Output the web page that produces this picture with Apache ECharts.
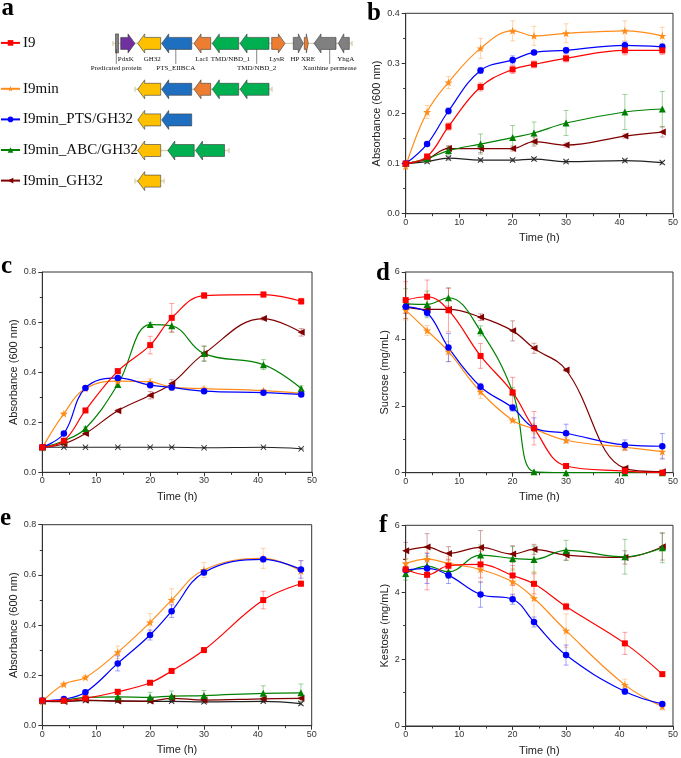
<!DOCTYPE html>
<html>
<head>
<meta charset="utf-8">
<script src="https://cdn.jsdelivr.net/npm/echarts@6.0.0/dist/echarts.min.js"></script>
<style>
html, body { margin: 0; padding: 0; background: #fff; }
#main { width: 681px; height: 758px; }
</style>
</head>
<body>
<div id="main"></div>
<script>
// sampling times (h)
var hours = [0, 4, 8, 14, 20, 24, 30, 41, 48];

// b - growth on sucrose + kestose mix (A600)
var bI9 = [0.100, 0.114, 0.174, 0.253, 0.288, 0.298, 0.310, 0.326, 0.326];
var bI9Err = [0.004, 0.005, 0.007, 0.008, 0.008, 0.007, 0.007, 0.009, 0.008];
var bMin = [0.095, 0.203, 0.262, 0.330, 0.365, 0.355, 0.360, 0.365, 0.355];
var bMinErr = [0.006, 0.013, 0.012, 0.020, 0.020, 0.019, 0.019, 0.020, 0.017];
var bPts = [0.100, 0.139, 0.205, 0.286, 0.307, 0.322, 0.326, 0.336, 0.333];
var bPtsErr = [0.003, 0.004, 0.006, 0.006, 0.008, 0.004, 0.006, 0.007, 0.006];
var bAbc = [0.100, 0.110, 0.126, 0.139, 0.152, 0.161, 0.181, 0.203, 0.209];
var bAbcErr = [0.003, 0.005, 0.008, 0.020, 0.024, 0.022, 0.025, 0.035, 0.035];
var bGh = [0.100, 0.109, 0.130, 0.130, 0.130, 0.144, 0.137, 0.155, 0.163];
var bGhErr = [0.003, 0.004, 0.006, 0.008, 0.005, 0.009, 0.004, 0.004, 0.010];
var bCtl = [0.100, 0.104, 0.111, 0.107, 0.107, 0.109, 0.104, 0.106, 0.102];
var bCtlErr = [0.002, 0.003, 0.004, 0.003, 0.003, 0.003, 0.003, 0.003, 0.003];

// c - growth on sucrose
var cI9 = [0.100, 0.126, 0.247, 0.404, 0.508, 0.617, 0.706, 0.710, 0.683];
var cI9Err = [0.004, 0.005, 0.008, 0.010, 0.035, 0.057, 0.012, 0.010, 0.012];
var cMin = [0.098, 0.234, 0.335, 0.364, 0.361, 0.340, 0.334, 0.326, 0.315];
var cMinErr = [0.004, 0.005, 0.008, 0.006, 0.012, 0.010, 0.006, 0.006, 0.005];
var cPts = [0.100, 0.155, 0.337, 0.377, 0.348, 0.339, 0.324, 0.318, 0.311];
var cPtsErr = [0.003, 0.005, 0.006, 0.006, 0.006, 0.005, 0.005, 0.005, 0.005];
var cAbc = [0.100, 0.126, 0.175, 0.351, 0.590, 0.585, 0.474, 0.430, 0.335];
var cAbcErr = [0.003, 0.005, 0.006, 0.008, 0.008, 0.025, 0.030, 0.020, 0.010];
var cGh = [0.100, 0.114, 0.155, 0.246, 0.308, 0.355, 0.474, 0.614, 0.559];
var cGhErr = [0.003, 0.004, 0.005, 0.006, 0.015, 0.015, 0.030, 0.006, 0.015];
var cCtl = [0.100, 0.100, 0.100, 0.100, 0.100, 0.100, 0.098, 0.100, 0.094];
var cCtlErr = [0.002, 0.002, 0.002, 0.002, 0.002, 0.002, 0.002, 0.002, 0.002];

// d - residual sucrose (mg/mL)
var dI9 = [5.16, 5.26, 4.86, 3.49, 2.40, 1.33, 0.20, 0.05, 0.00];
var dI9Err = [0.55, 0.50, 0.65, 0.37, 0.45, 0.50, 0.05, 0.05, 0.00];
var dMin = [4.86, 4.25, 3.62, 2.42, 1.57, 1.31, 0.97, 0.76, 0.63];
var dMinErr = [0.30, 0.15, 0.30, 0.20, 0.05, 0.15, 0.08, 0.10, 0.20];
var dPts = [4.96, 4.78, 3.74, 2.57, 1.94, 1.34, 1.18, 0.83, 0.79];
var dPtsErr = [0.20, 0.10, 0.42, 0.10, 0.10, 0.30, 0.27, 0.15, 0.38];
var dAbc = [5.05, 5.03, 5.23, 4.24, 2.42, 0.03, 0.00, 0.00, 0.00];
var dAbcErr = [0.45, 0.40, 0.30, 0.15, 0.12, 0.00, 0.00, 0.00, 0.00];
var dGh = [4.96, 4.88, 4.88, 4.65, 4.24, 3.72, 3.07, 0.13, 0.03];
var dGhErr = [0.10, 0.10, 0.10, 0.10, 0.30, 0.15, 0.05, 0.05, 0.00];

// e - growth on kestose
var eI9 = [0.100, 0.100, 0.109, 0.135, 0.171, 0.218, 0.301, 0.500, 0.565];
var eI9Err = [0.004, 0.004, 0.005, 0.006, 0.006, 0.008, 0.006, 0.035, 0.008];
var eMin = [0.096, 0.165, 0.192, 0.292, 0.411, 0.500, 0.620, 0.666, 0.616];
var eMinErr = [0.004, 0.006, 0.008, 0.025, 0.035, 0.045, 0.030, 0.040, 0.040];
var ePts = [0.100, 0.106, 0.133, 0.248, 0.361, 0.456, 0.610, 0.662, 0.622];
var ePtsErr = [0.004, 0.005, 0.006, 0.030, 0.020, 0.025, 0.010, 0.010, 0.035];
var eAbc = [0.100, 0.102, 0.113, 0.115, 0.113, 0.118, 0.120, 0.129, 0.131];
var eAbcErr = [0.004, 0.005, 0.010, 0.010, 0.020, 0.020, 0.020, 0.030, 0.035];
var eGh = [0.097, 0.096, 0.102, 0.098, 0.098, 0.109, 0.102, 0.107, 0.109];
var eGhErr = [0.003, 0.003, 0.004, 0.004, 0.004, 0.006, 0.004, 0.004, 0.004];
var eCtl = [0.097, 0.097, 0.100, 0.099, 0.097, 0.097, 0.095, 0.097, 0.088];
var eCtlErr = [0.003, 0.003, 0.006, 0.006, 0.005, 0.005, 0.005, 0.005, 0.006];

// f - residual kestose (mg/mL)
var fI9 = [4.68, 4.52, 4.79, 4.83, 4.50, 4.25, 3.57, 2.47, 1.55];
var fI9Err = [0.20, 0.45, 0.20, 0.40, 0.30, 0.30, 0.10, 0.33, 0.05];
var fMin = [4.86, 4.99, 4.86, 4.68, 4.31, 3.82, 2.85, 1.23, 0.58];
var fMinErr = [0.15, 0.20, 0.20, 0.40, 0.40, 0.80, 0.50, 0.17, 0.10];
var fPts = [4.66, 4.71, 4.51, 3.93, 3.79, 3.11, 2.12, 1.03, 0.66];
var fPtsErr = [0.20, 0.45, 0.25, 0.38, 0.15, 0.15, 0.30, 0.08, 0.05];
var fAbc = [4.56, 4.78, 4.61, 5.11, 5.01, 4.98, 5.25, 5.06, 5.33];
var fAbcErr = [0.20, 0.30, 0.20, 0.30, 0.35, 0.40, 0.30, 0.52, 0.45];
var fGh = [5.24, 5.35, 5.16, 5.34, 5.14, 5.28, 5.11, 5.04, 5.36];
var fGhErr = [0.25, 0.40, 0.20, 0.50, 0.25, 0.15, 0.15, 0.20, 0.40];

// strains
var strainNames = ['I9', 'I9min', 'I9min_PTS/GH32', 'I9min_ABC/GH32', 'I9min_GH32', 'Control'];
var strainColors = ['#ff0000', '#ff8c1a', '#0000ff', '#008000', '#800000', '#222222'];
var starPath = 'path://M5,0L6.2,3.6L10,3.6L7,5.9L8.1,9.5L5,7.3L1.9,9.5L3,5.9L0,3.6L3.8,3.6Z';
var crossPath = 'path://M0,1L1,0L5,4L9,0L10,1L6,5L10,9L9,10L5,6L1,10L0,9L4,5Z';
var strainSymbols = ['rect', starPath, 'circle', 'triangle', 'triangle', crossPath];
var strainSymbolRotate = [0, 0, 0, 0, 90, 0];
var strainSymbolSize = [6, 8, 6.5, 7, 7, 6];

// panel a - gene cluster of I9 (positions along the map)
var geneNames = ['Predicated protein', 'PdxK', 'GH32', 'PTS_EIIBCA', 'LacI', 'TMD/NBD_1', 'TMD/NBD_2', 'LysR', 'HP', 'XRE', 'Xanthine permease', 'YhgA'];
var geneStart = [115.5, 120.7, 137.7, 161.7, 194, 212.3, 240, 271.7, 293.3, 304.3, 314, 338.3];
var geneEnd = [118.5, 135, 160.7, 191.7, 210.7, 238.7, 269, 285, 303.3, 308.3, 336, 349.3];
var geneStrand = [0, 1, -1, -1, -1, -1, -1, 1, 1, 1, -1, -1];
var geneFamily = [5, 0, 1, 2, 3, 4, 4, 3, 5, 3, 5, 5];
var familyColors = ['#7030a0', '#ffc000', '#1f6fc0', '#ed7d31', '#00b050', '#808080'];
var geneLabelRow = [2, 1, 1, 2, 1, 1, 2, 1, 1, 1, 2, 1];
var geneLabelShift = [-0.7, -2.1, 3, -0.9, -0.7, 4.8, 2.2, -1.4, -3.3, 1.7, 4.7, 2];

var constructs = ['I9', 'I9min', 'I9min_PTS/GH32', 'I9min_ABC/GH32', 'I9min_GH32'];
var constructRow = [0, 1.5, 2.5, 3.5, 4.5];
var constructGenes = [
    [0, 1, 2, 3, 4, 5, 6, 7, 8, 9, 10, 11],
    [2, 3, 4, 5, 6],
    [2, 3],
    [2, 5, 6],
    [2]
];
var constructShift = [
    [0, 0, 0, 0, 0, 0, 0, 0, 0, 0, 0, 0],
    [0, 0, 0, 0, 0],
    [0, 0],
    [0, -44.5, -44.5],
    [0]
];
var backboneStart = [113, 135, null, 135, 135];
var backboneEnd = [352, 272, null, 229, 164];

var chart = echarts.init(document.getElementById('main'));

var sansFont = 'Liberation Sans';
var serifFont = 'Liberation Serif';

var gridList = [
    { left: 405.7, top: 13.3, width: 270.3, height: 200.4 },   // b
    { left: 42.3, top: 272, width: 269.7, height: 200.3 },     // c
    { left: 405.7, top: 272, width: 269.6, height: 200.7 },    // d
    { left: 42.3, top: 524.7, width: 269.4, height: 201 },     // e
    { left: 405.7, top: 525.3, width: 269.6, height: 200.7 },  // f
    { left: 0, top: 12.8, width: 360, height: 198.9 }          // a
];
gridList.forEach(function (g, i) {
    g.show = i < 5;
    g.borderColor = '#333';
    g.borderWidth = 1;
    g.backgroundColor = 'transparent';
});

var panelVals = [
    [bI9, bMin, bPts, bAbc, bGh, bCtl],
    [cI9, cMin, cPts, cAbc, cGh, cCtl],
    [dI9, dMin, dPts, dAbc, dGh, null],
    [eI9, eMin, ePts, eAbc, eGh, eCtl],
    [fI9, fMin, fPts, fAbc, fGh, null]
];
var panelErrs = [
    [bI9Err, bMinErr, bPtsErr, bAbcErr, bGhErr, bCtlErr],
    [cI9Err, cMinErr, cPtsErr, cAbcErr, cGhErr, cCtlErr],
    [dI9Err, dMinErr, dPtsErr, dAbcErr, dGhErr, null],
    [eI9Err, eMinErr, ePtsErr, eAbcErr, eGhErr, eCtlErr],
    [fI9Err, fMinErr, fPtsErr, fAbcErr, fGhErr, null]
];
var panelYMax = [0.4, 0.8, 6, 0.8, 6];
var panelYStep = [0.1, 0.2, 2, 0.2, 2];
var panelYName = ['Absorbance (600 nm)', 'Absorbance (600 nm)', 'Sucrose (mg/mL)', 'Absorbance (600 nm)', 'Kestose (mg/mL)'];
var panelYGap = [23, 21.5, 15.5, 21.5, 15.5];

var xAxes = [], yAxes = [], series = [];

for (var p = 0; p < 5; p++) {
    xAxes.push({
        type: 'value', gridIndex: p, min: 0, max: 50, interval: 10,
        name: 'Time (h)', nameLocation: 'middle', nameGap: 19,
        nameTextStyle: { fontFamily: sansFont, fontSize: 11, color: '#222' },
        axisLine: { onZero: false, lineStyle: { color: '#333', width: 1 } },
        axisTick: { length: 4, lineStyle: { color: '#333' } },
        minorTick: { show: true, splitNumber: 2, length: 2.5, lineStyle: { color: '#333' } },
        axisLabel: { fontFamily: sansFont, fontSize: 9, color: '#333', margin: 4 },
        splitLine: { show: false }
    });
    yAxes.push({
        type: 'value', gridIndex: p, min: 0, max: panelYMax[p], interval: panelYStep[p],
        name: panelYName[p], nameLocation: 'middle', nameGap: panelYGap[p],
        nameTextStyle: { fontFamily: sansFont, fontSize: 11, color: '#222' },
        axisLine: { onZero: false, lineStyle: { color: '#333', width: 1 } },
        axisTick: { length: 4, lineStyle: { color: '#333' } },
        minorTick: { show: true, splitNumber: 2, length: 2.5, lineStyle: { color: '#333' } },
        axisLabel: {
            fontFamily: sansFont, fontSize: 9, color: '#333', margin: 6,
            formatter: (function (step) {
                return function (v) { return step < 1 ? v.toFixed(1) : String(v); };
            })(panelYStep[p])
        },
        splitLine: { show: false }
    });
}
// gene map axes (hidden)
xAxes.push({ type: 'value', gridIndex: 5, min: 0, max: 360, show: false });
yAxes.push({ type: 'value', gridIndex: 5, min: -1, max: 5.5, inverse: true, show: false });

function makeErrorRender(color) {
    return function (params, api) {
        var x = api.value(0), y = api.value(1), e = api.value(2);
        if (!e) return null;
        var hi = api.coord([x, y + e]);
        var lo = api.coord([x, Math.max(y - e, 0)]);
        var cap = 2.5;
        var st = { stroke: color, lineWidth: 0.8, opacity: 0.45 };
        return {
            type: 'group', children: [
                { type: 'line', shape: { x1: hi[0], y1: hi[1], x2: lo[0], y2: lo[1] }, style: st },
                { type: 'line', shape: { x1: hi[0] - cap, y1: hi[1], x2: hi[0] + cap, y2: hi[1] }, style: st },
                { type: 'line', shape: { x1: lo[0] - cap, y1: lo[1], x2: lo[0] + cap, y2: lo[1] }, style: st }
            ]
        };
    };
}

for (var p2 = 0; p2 < 5; p2++) {
    // draw in this order so the red/blue lines end on top like the original
    [5, 4, 3, 1, 2, 0].forEach(function (k) {
        var vals = panelVals[p2][k];
        if (!vals) return;
        var errs = panelErrs[p2][k];
        series.push({
            type: 'line', name: strainNames[k], xAxisIndex: p2, yAxisIndex: p2,
            smooth: 0.4, z: 3,
            symbol: strainSymbols[k], symbolSize: strainSymbolSize[k], symbolRotate: strainSymbolRotate[k],
            showAllSymbol: true,
            lineStyle: { color: strainColors[k], width: 1.2 },
            itemStyle: { color: strainColors[k] },
            data: hours.map(function (h, i) { return [h, vals[i]]; })
        });
        series.push({
            type: 'custom', name: strainNames[k] + ' SD', xAxisIndex: p2, yAxisIndex: p2,
            renderItem: makeErrorRender(strainColors[k]), z: 1, silent: true,
            data: hours.map(function (h, i) { return [h, vals[i], errs[i]]; })
        });
    });
}

// gene arrows
var geneData = [];
constructs.forEach(function (c, ci) {
    constructGenes[ci].forEach(function (g, j) {
        var sh = constructShift[ci][j];
        geneData.push([geneStart[g] + sh, geneEnd[g] + sh, constructRow[ci], geneStrand[g], geneFamily[g], g, ci === 0 ? 1 : 0]);
    });
});
var backboneData = [];
constructs.forEach(function (c, ci) {
    if (backboneStart[ci] != null) backboneData.push([backboneStart[ci], backboneEnd[ci], constructRow[ci]]);
});

series.push({
    type: 'custom', name: 'backbone', xAxisIndex: 5, yAxisIndex: 5, silent: true, z: 1,
    data: backboneData,
    renderItem: function (params, api) {
        var s = api.coord([api.value(0), api.value(2)]);
        var e = api.coord([api.value(1), api.value(2)]);
        var st = { stroke: '#d9d2ae', lineWidth: 1.4 };
        return {
            type: 'group', children: [
                { type: 'line', shape: { x1: s[0], y1: s[1], x2: e[0], y2: e[1] }, style: st },
                { type: 'line', shape: { x1: s[0], y1: s[1] - 2.5, x2: s[0], y2: s[1] + 2.5 }, style: st },
                { type: 'line', shape: { x1: e[0], y1: e[1] - 2.5, x2: e[0], y2: e[1] + 2.5 }, style: st }
            ]
        };
    }
});

series.push({
    type: 'custom', name: 'genes', xAxisIndex: 5, yAxisIndex: 5, silent: true, z: 2,
    data: geneData,
    renderItem: function (params, api) {
        var s = api.coord([api.value(0), api.value(2)]);
        var e = api.coord([api.value(1), api.value(2)]);
        var strand = api.value(3), fam = api.value(4), gi = api.value(5), lab = api.value(6);
        var x0 = s[0], x1 = e[0], yc = s[1];
        var bh = 6, hh = 9.5, hl = Math.min(7, (x1 - x0) * 0.5);
        var pts;
        if (strand < 0) {
            pts = [[x0, yc], [x0 + hl, yc - hh], [x0 + hl, yc - bh], [x1, yc - bh], [x1, yc + bh], [x0 + hl, yc + bh], [x0 + hl, yc + hh]];
        } else if (strand > 0) {
            pts = [[x1, yc], [x1 - hl, yc - hh], [x1 - hl, yc - bh], [x0, yc - bh], [x0, yc + bh], [x1 - hl, yc + bh], [x1 - hl, yc + hh]];
        } else {
            pts = [[x0, yc - hh], [x1, yc - hh], [x1, yc + hh], [x0, yc + hh]];
        }
        var children = [{
            type: 'polygon', shape: { points: pts },
            style: { fill: familyColors[fam], stroke: '#3a3a3a', lineWidth: 0.6 }
        }];
        if (lab) {
            var lx = api.coord([(geneStart[gi] + geneEnd[gi]) / 2 + geneLabelShift[gi], 0])[0];
            var row = geneLabelRow[gi];
            var ly = yc + (row === 1 ? 16 : 24.5);
            if (row === 2) {
                children.push({
                    type: 'line', shape: { x1: lx, y1: yc + bh, x2: lx, y2: ly - 4 },
                    style: { stroke: '#333', lineWidth: 0.6 }
                });
            }
            children.push({
                type: 'text',
                style: {
                    text: geneNames[gi], x: lx, y: ly, align: 'center', verticalAlign: 'middle',
                    font: '7px "Liberation Serif"', fill: '#111'
                }
            });
        }
        return { type: 'group', children: children };
    }
});

// legend: one block per construct row
var legends = constructs.map(function (c, ci) {
    return {
        left: 0, top: 12.8 + (constructRow[ci] + 1) * 30.6 - 8, padding: 0,
        itemWidth: 19, itemHeight: 7, selectedMode: false,
        data: [c],
        textStyle: { fontFamily: serifFont, fontSize: 15, color: '#111', padding: [0, 0, 0, -2] }
    };
});

var panelLetters = ['a', 'b', 'c', 'd', 'e', 'f'];
var letterX = [1.5, 367, 1, 376, 0, 379];
var letterBase = [12.7, 18.3, 271, 278.3, 522.7, 530];

chart.setOption({
    animation: false,
    backgroundColor: '#fff',
    legend: legends,
    grid: gridList,
    xAxis: xAxes,
    yAxis: yAxes,
    series: series,
    graphic: panelLetters.map(function (t, i) {
        return {
            type: 'text', left: letterX[i], top: letterBase[i] - 17,
            style: { text: t, font: 'bold 25px "Liberation Serif"', fill: '#000' }
        };
    })
});
</script>
</body>
</html>
